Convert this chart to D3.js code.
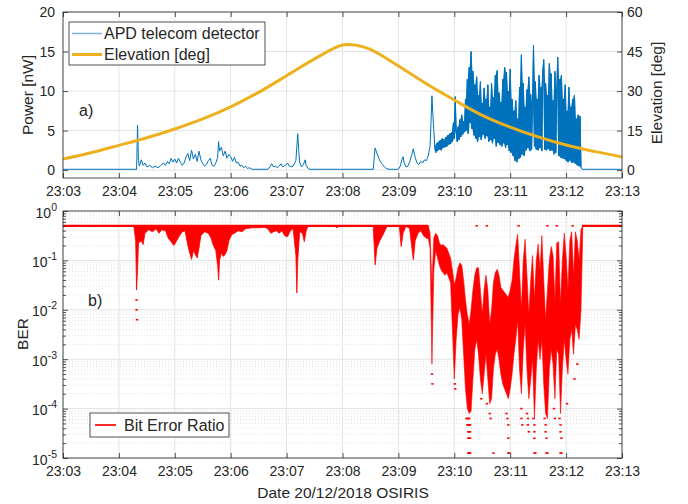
<!DOCTYPE html>
<html><head><meta charset="utf-8">
<script src="https://cdn.jsdelivr.net/npm/d3@7"></script>
<style>
body{margin:0;background:#fff}
text{font-family:"Liberation Sans",Arial,Helvetica,sans-serif;fill:#262626}
</style>
</head><body>
<svg id="c" width="688" height="504"></svg>
<script>
// ---------------- DATA (time in seconds after 23:03:00) ----------------
const timeLabels = ["23:03","23:04","23:05","23:06","23:07","23:08","23:09","23:10","23:11","23:12","23:13"];
const powerTicks = [0,5,10,15,20];
const elevTicks = [0,15,30,45,60];
const berTickExps = [0,-1,-2,-3,-4,-5];

// APD telecom detector power [nW], quiet part: [seconds, nW]
const apdQuiet = [[0,0.1],[79,0.1],[80,5.7],[81,1.2],[82,0.5],[84,1.3],[86,0.6],[88,0.9],[90,0.4],[93,0.6],[96,0.3],[99,0.5],[102,0.3],[105,0.6],[108,0.9],[110,0.6],[112,1.1],[114,0.8],[116,1.5],[118,1.0],[120,1.4],[122,0.9],[124,1.5],[126,1.0],[128,0.6],[130,0.9],[132,1.6],[134,2.1],[136,1.2],[138,2.5],[140,1.4],[142,2.0],[144,1.1],[146,2.4],[148,1.3],[150,0.8],[152,0.5],[154,0.7],[156,1.2],[158,1.5],[160,0.6],[162,0.5],[164,0.9],[166,1.6],[167,3.6],[168,2.4],[170,2.9],[172,1.8],[174,2.4],[176,1.5],[178,2.0],[180,1.7],[182,1.1],[184,1.6],[186,0.9],[188,1.0],[190,0.5],[192,0.6],[194,0.3],[196,0.5],[198,0.2],[200,0.3],[203,0.1],[220,0.1],[222,0.4],[224,0.8],[226,0.4],[228,0.5],[230,0.3],[232,0.5],[234,0.8],[236,0.4],[238,0.6],[240,0.7],[241,0.9],[243,0.5],[246,0.4],[248,0.7],[250,1.2],[251,3.0],[252,4.6],[253,2.5],[254,1.0],[256,0.4],[258,0.7],[260,1.3],[261,0.6],[263,0.2],[265,0.1],[333,0.1],[334,1.5],[335,2.8],[337,2.1],[339,1.5],[341,1.0],[343,0.7],[345,0.4],[347,0.2],[350,0.1],[360,0.1],[362,0.5],[364,1.4],[365,1.7],[366,1.0],[368,0.4],[370,0.5],[372,1.0],[374,1.8],[376,2.7],[378,1.6],[380,0.9],[382,0.7],[384,1.1],[386,0.9],[388,1.3],[390,1.2],[392,1.8],[394,3.0],[395,6.0],[396,9.4],[397,7.0]];
// APD power, active part: one sample per second starting at apdActiveStart
const apdActiveStart = 398;
const apdActive = [5.0,3.0,2.2,3.4,2.4,3.6,2.6,3.8,2.5,4.0,2.8,3.9,2.9,4.2,3.0,4.4,3.2,4.6,3.3,4.8,3.6,6.0,4.0,9.3,5.0,3.6,5.5,3.8,6.4,4.2,7.0,4.5,6.2,4.8,9.0,5.0,11.5,4.6,13.0,6.0,15.0,5.2,12.5,4.4,10.8,4.0,11.8,3.6,9.5,4.2,11.2,3.8,8.5,4.5,10.4,4.0,9.0,4.3,10.8,3.6,8.0,3.8,11.0,3.4,9.2,4.0,12.0,3.0,12.6,3.5,9.8,3.2,8.6,3.0,11.5,3.4,13.0,2.8,12.4,3.2,10.0,2.4,12.8,2.2,9.0,1.8,7.5,1.2,8.8,1.0,6.5,1.4,10.5,1.6,14.6,2.0,11.0,1.8,8.0,2.5,10.2,2.8,11.8,2.4,9.6,2.6,8.4,15.8,3.0,11.2,2.6,9.0,2.5,12.0,2.8,10.5,2.4,12.5,14.0,2.6,11.0,2.5,9.5,2.7,13.5,2.4,12.2,2.5,8.8,2.0,12.5,2.2,10.0,14.3,1.8,11.5,1.6,12.0,1.5,9.0,1.4,10.8,1.2,7.5,1.0,10.5,1.2,8.0,0.9,9.0,1.0,9.5,0.8,6.5,0.6,7.0,0.5,6.8,0.4,0.1];
const apdTail = [[558,0.1],[600,0.1]];

// Elevation [deg]
const elevTimes = [0,30,60,90,120,150,180,210,240,270,300,315,330,360,390,420,450,480,510,540,570,600];
const elevDeg   = [4.2,6.6,9.4,12.3,15.6,19.4,24.0,29.5,35.8,42.2,47.5,47.4,45.8,39.5,32.8,26.6,20.8,16.3,12.6,9.5,7.1,5.0];

// Bit Error Ratio
const berNoSignal = 0.5;
const berFlatSpans = [[0,392],[557,600]];
// quiet part: lower edge as log10(BER), upper edge is berNoSignal
const berQuietLowLog10 = [[76,-0.30],[78,-0.60],[79,-1.60],[80,-1.20],[81,-0.65],[84,-0.60],[86,-0.68],[88,-0.45],[92,-0.38],[96,-0.42],[100,-0.36],[103,-0.45],[106,-0.38],[110,-0.40],[113,-0.55],[116,-0.62],[119,-0.70],[122,-0.60],[125,-0.50],[128,-0.42],[131,-0.40],[134,-0.70],[136,-0.85],[138,-0.98],[140,-0.80],[142,-0.88],[144,-0.95],[146,-0.75],[148,-0.50],[152,-0.42],[156,-0.45],[159,-0.55],[161,-0.68],[164,-0.80],[166,-1.10],[167,-1.40],[168,-1.00],[170,-0.85],[172,-0.92],[174,-0.88],[176,-0.80],[178,-0.60],[181,-0.48],[184,-0.45],[188,-0.40],[192,-0.42],[196,-0.36],[202,-0.34],[210,-0.34],[216,-0.33],[220,-0.36],[223,-0.45],[226,-0.42],[229,-0.40],[232,-0.45],[235,-0.40],[238,-0.50],[241,-0.52],[244,-0.40],[247,-0.36],[250,-0.90],[251,-1.66],[252,-1.00],[254,-0.42],[257,-0.45],[259,-0.62],[261,-0.40],[263,-0.31],[292,-0.31],[294,-0.34],[296,-0.31],[333,-0.31],[335,-1.09],[337,-0.75],[340,-0.60],[343,-0.50],[346,-0.38],[348,-0.31],[361,-0.31],[363,-0.72],[365,-0.45],[368,-0.31],[372,-0.35],[376,-0.99],[378,-0.60],[381,-0.45],[384,-0.40],[387,-0.50],[390,-0.55],[392,-0.55]];
// active part: every 2 s from berActiveStart, upper and lower edges as log10(BER)
const berActiveStart = 392;
const berActiveHiLog10 = [-0.30,-0.45,-1.50,-0.55,-0.45,-0.50,-0.65,-0.70,-0.68,-0.72,-0.75,-0.85,-0.95,-1.20,-1.50,-1.35,-1.15,-1.05,-1.10,-1.40,-1.80,-2.10,-2.30,-2.00,-1.60,-1.30,-1.15,-1.15,-1.60,-2.10,-1.60,-1.30,-1.60,-2.30,-2.00,-1.45,-1.25,-1.18,-1.30,-1.55,-1.60,-1.65,-1.70,-1.75,-1.60,-1.40,-1.00,-0.70,-0.47,-1.20,-2.00,-1.00,-0.57,-1.30,-2.10,-1.40,-0.90,-1.80,-1.00,-0.67,-1.20,-0.50,-1.40,-2.20,-1.60,-1.00,-0.72,-0.90,-1.80,-0.65,-0.62,-1.90,-1.00,-0.45,-0.90,-1.60,-0.60,-0.42,-1.30,-0.42,-0.60,-1.00,-0.38,-0.30];
const berActiveLoLog10 = [-0.55,-0.75,-3.10,-1.20,-0.80,-0.95,-1.10,-1.20,-1.25,-1.30,-1.25,-1.35,-1.45,-2.40,-3.40,-2.60,-2.10,-1.95,-2.20,-2.90,-3.60,-4.00,-4.10,-4.05,-3.40,-2.80,-2.60,-2.90,-3.40,-3.70,-3.30,-2.90,-3.40,-3.90,-3.80,-3.20,-2.90,-2.80,-3.00,-3.30,-3.50,-3.60,-3.70,-3.80,-3.60,-3.30,-2.90,-2.60,-2.20,-3.20,-3.70,-2.80,-2.30,-3.20,-3.80,-3.40,-3.00,-4.20,-3.20,-2.60,-3.00,-2.60,-3.50,-4.10,-4.20,-3.20,-2.80,-3.10,-3.80,-2.80,-2.90,-4.10,-3.20,-2.60,-3.00,-3.30,-2.60,-2.40,-2.90,-2.30,-2.40,-2.60,-2.00,-0.30];
// isolated BER samples: [seconds, log10(BER)]
const berDots = [[79,-1.8],[79,-2.0],[79.5,-2.2],[396,-3.3],[396.5,-3.5],[420.5,-3.5],[421,-3.6],
[433,-4.2],[434,-4.2],[435,-4.2],[436,-4.2],[434,-4.33],[435,-4.33],[436,-4.33],[437,-4.33],[435,-4.47],[436,-4.47],[437,-4.47],[435,-4.6],[436,-4.6],[437,-4.6],[435,-4.9],[436,-4.9],[437,-4.9],
[449,-3.8],[455,-3.9],[458,-4.1],[459,-4.2],[462,-4.9],[476,-4.1],[477,-4.2],[478,-4.33],[478,-4.6],[478,-4.9],[479,-4.9],
[492,-4.0],[492,-4.2],[493,-4.33],[498,-4.1],[499,-4.2],[499,-4.33],[500,-4.47],[505,-4.2],[506,-4.33],[506,-4.47],[506,-4.6],[506,-4.9],[507,-4.9],
[517,-4.2],[518,-4.33],[518,-4.47],[519,-4.6],[519,-4.9],[520,-4.9],[527,-4.0],[528,-4.2],[533,-4.2],[534,-4.33],[534,-4.47],[535,-4.6],[534,-4.9],[535,-4.9],
[541,-3.9],[549,-3.4],[552,-3.1],[444,-0.3],[455,-0.3],[489,-0.3],[520,-0.3],[530,-0.3],[547,-0.3]];

// ---------------- DRAWING ----------------
const svg = d3.select("#c");
const L = 63, R = 622;
const tTop = 12, tBot = 178;
const bTop = 211, bBot = 458;
const x = d3.scaleLinear().domain([0,600]).range([L,R]);
const yP = d3.scaleLinear().domain([-1,20]).range([tBot,tTop]);
const yE = d3.scaleLinear().domain([-3,60]).range([tBot,tTop]);
const yB = d3.scaleLog().domain([1e-5,1]).range([bBot,bTop]);
const minuteSecs = timeLabels.map((d,i)=>i*60);
const gridCol = "#e3e3e3", axCol = "#262626";

const defs = svg.append("defs");
defs.append("clipPath").attr("id","clipT").append("rect").attr("x",L).attr("y",tTop).attr("width",R-L).attr("height",tBot-tTop);
defs.append("clipPath").attr("id","clipB").append("rect").attr("x",L).attr("y",bTop).attr("width",R-L).attr("height",bBot-bTop);

// ---- grids ----
const gT = svg.append("g");
gT.selectAll(".vg").data(minuteSecs).join("line").attr("x1",d=>x(d)).attr("x2",d=>x(d)).attr("y1",tTop).attr("y2",tBot).attr("stroke",gridCol);
gT.selectAll(".hg").data(powerTicks).join("line").attr("x1",L).attr("x2",R).attr("y1",d=>yP(d)).attr("y2",d=>yP(d)).attr("stroke",gridCol);

const gB = svg.append("g");
const minorVals = [];
for (let e=-5; e<0; e++) for (let m=2; m<10; m++) minorVals.push(m*Math.pow(10,e));
gB.selectAll(".mg").data(minorVals).join("line").attr("x1",L).attr("x2",R).attr("y1",d=>yB(d)).attr("y2",d=>yB(d)).attr("stroke","#d9d9d9").attr("stroke-dasharray","1,2").attr("stroke-width",0.8);
gB.selectAll(".vg").data(minuteSecs).join("line").attr("x1",d=>x(d)).attr("x2",d=>x(d)).attr("y1",bTop).attr("y2",bBot).attr("stroke",gridCol);
gB.selectAll(".hg").data(berTickExps).join("line").attr("x1",L).attr("x2",R).attr("y1",d=>yB(Math.pow(10,d))).attr("y2",d=>yB(Math.pow(10,d))).attr("stroke",gridCol);

// ---- top data ----
const blue = "#0072BD";
const activePts = apdActive.map((v,i)=>[apdActiveStart+i, v]);
const apdAll = apdQuiet.concat(activePts, apdTail);
const pT = svg.append("g").attr("clip-path","url(#clipT)");
// dense band between consecutive samples of the active (noisy) part
const bands = activePts.slice(0,-1).map((p,i)=>({t:p[0]+0.5, lo:Math.min(p[1],activePts[i+1][1]), hi:Math.max(p[1],activePts[i+1][1])}));
pT.append("path").datum(bands).attr("fill",blue).attr("stroke","none")
  .attr("d", d3.area().x(d=>x(d.t)).y0(d=>yP(d.lo)).y1(d=>yP(d.hi)));
pT.append("path").datum(apdAll).attr("fill","none").attr("stroke",blue).attr("stroke-width",1).attr("stroke-linejoin","round")
  .attr("d", d3.line().x(d=>x(d[0])).y(d=>yP(d[1])));
pT.append("path").datum(elevTimes.map((t,i)=>[t,elevDeg[i]])).attr("fill","none").attr("stroke","#EDB120").attr("stroke-width",3)
  .attr("d", d3.line().curve(d3.curveCatmullRom).x(d=>x(d[0])).y(d=>yE(d[1])));

// ---- bottom data ----
const red = "#FF0000";
const pB = svg.append("g").attr("clip-path","url(#clipB)");
pB.append("path").datum(berQuietLowLog10).attr("fill",red).attr("stroke",red).attr("stroke-width",0.8)
  .attr("d", d3.area().x(d=>x(d[0])).y0(yB(berNoSignal)).y1(d=>yB(Math.pow(10,d[1]))));
const act = berActiveHiLog10.map((h,i)=>({t:berActiveStart+2*i, hi:h, lo:berActiveLoLog10[i]}));
pB.append("path").datum(act).attr("fill",red).attr("stroke",red).attr("stroke-width",0.6)
  .attr("d", d3.area().x(d=>x(d.t)).y0(d=>yB(Math.pow(10,d.hi))).y1(d=>yB(Math.pow(10,d.lo))));
pB.selectAll(".flat").data(berFlatSpans).join("line").attr("x1",d=>x(d[0])).attr("x2",d=>x(d[1]))
  .attr("y1",yB(berNoSignal)).attr("y2",yB(berNoSignal)).attr("stroke",red).attr("stroke-width",2.4);
pB.selectAll(".dot").data(berDots).join("rect").attr("x",d=>x(d[0])-1.2).attr("y",d=>yB(Math.pow(10,d[1]))-0.8)
  .attr("width",2.4).attr("height",1.6).attr("fill",red);

// ---- axes ----
function styleAxis(g){ g.select(".domain").remove(); g.selectAll(".tick line").attr("stroke",axCol).attr("stroke-width",0.8); g.selectAll(".tick text").style("font-size","14px").attr("fill",axCol).style("font-family","'Liberation Sans',Arial,sans-serif"); }
// top panel
svg.append("g").attr("transform",`translate(0,${tBot})`).call(d3.axisBottom(x).tickValues(minuteSecs).tickFormat((d,i)=>timeLabels[i]).tickSize(-5).tickPadding(8)).call(styleAxis);
svg.append("g").attr("transform",`translate(0,${tTop})`).call(d3.axisTop(x).tickValues(minuteSecs).tickFormat("").tickSize(-5)).call(styleAxis);
svg.append("g").attr("transform",`translate(${L},0)`).call(d3.axisLeft(yP).tickValues(powerTicks).tickSize(-5).tickPadding(8)).call(styleAxis);
svg.append("g").attr("transform",`translate(${R},0)`).call(d3.axisRight(yE).tickValues(elevTicks).tickSize(-5).tickPadding(5)).call(styleAxis);
svg.append("rect").attr("x",L).attr("y",tTop).attr("width",R-L).attr("height",tBot-tTop).attr("fill","none").attr("stroke",axCol).attr("stroke-width",0.8);

// bottom panel
svg.append("g").attr("transform",`translate(0,${bBot})`).call(d3.axisBottom(x).tickValues(minuteSecs).tickFormat((d,i)=>timeLabels[i]).tickSize(-5).tickPadding(8)).call(styleAxis);
svg.append("g").attr("transform",`translate(0,${bTop})`).call(d3.axisTop(x).tickValues(minuteSecs).tickFormat("").tickSize(-5)).call(styleAxis);
const majVals = berTickExps.map(e=>Math.pow(10,e));
const leftLog = svg.append("g").attr("transform",`translate(${L},0)`).call(d3.axisLeft(yB).tickValues(majVals).tickSize(-5).tickPadding(6).tickFormat("")).call(styleAxis);
leftLog.selectAll(".tick text").each(function(d){
  const e = Math.round(Math.log10(d));
  const t = d3.select(this).attr("dy",null).attr("y",6).attr("x",-6);
  t.text(null);
  t.append("tspan").text("10");
  t.append("tspan").attr("dy",-7).style("font-size","10.5px").text(e===0?"0":"-"+(-e));
});
svg.append("g").attr("transform",`translate(${L},0)`).call(d3.axisLeft(yB).tickValues(minorVals).tickSize(-3).tickFormat("")).call(styleAxis);
svg.append("g").attr("transform",`translate(${R},0)`).call(d3.axisRight(yB).tickValues(majVals).tickSize(-5).tickFormat("")).call(styleAxis);
svg.append("g").attr("transform",`translate(${R},0)`).call(d3.axisRight(yB).tickValues(minorVals).tickSize(-3).tickFormat("")).call(styleAxis);
svg.append("rect").attr("x",L).attr("y",bTop).attr("width",R-L).attr("height",bBot-bTop).attr("fill","none").attr("stroke",axCol).attr("stroke-width",0.8);

// ---- labels ----
svg.append("text").attr("transform","translate(27,95) rotate(-90)").attr("text-anchor","middle").attr("dominant-baseline","central").style("font-size","15.5px").text("Power [nW]");
svg.append("text").attr("transform","translate(656,93) rotate(-90)").attr("text-anchor","middle").attr("dominant-baseline","central").style("font-size","15.5px").text("Elevation [deg]");
svg.append("text").attr("transform","translate(22,334) rotate(-90)").attr("text-anchor","middle").attr("dominant-baseline","central").style("font-size","15.5px").text("BER");
svg.append("text").attr("x",343).attr("y",492).attr("text-anchor","middle").attr("dominant-baseline","central").style("font-size","15.5px").text("Date 20/12/2018 OSIRIS");
svg.append("text").attr("x",79).attr("y",110).attr("dominant-baseline","central").style("font-size","16px").text("a)");
svg.append("text").attr("x",88).attr("y",300).attr("dominant-baseline","central").style("font-size","16px").text("b)");

// ---- legends ----
const lg1 = svg.append("g");
lg1.append("rect").attr("x",69).attr("y",22).attr("width",196).attr("height",43).attr("fill","#fff").attr("stroke",axCol).attr("stroke-width",0.8);
lg1.append("line").attr("x1",72).attr("x2",102).attr("y1",33.5).attr("y2",33.5).attr("stroke","#7fb3e0").attr("stroke-width",1.5);
lg1.append("text").attr("x",104).attr("y",33.5).attr("dominant-baseline","central").style("font-size","16px").text("APD telecom detector");
lg1.append("line").attr("x1",72).attr("x2",102).attr("y1",54.5).attr("y2",54.5).attr("stroke","#EDB120").attr("stroke-width",3);
lg1.append("text").attr("x",104).attr("y",54.5).attr("dominant-baseline","central").style("font-size","16px").text("Elevation [deg]");

const lg2 = svg.append("g");
lg2.append("rect").attr("x",90).attr("y",413).attr("width",139).attr("height",24).attr("fill","#fff").attr("stroke",axCol).attr("stroke-width",0.8);
lg2.append("line").attr("x1",95).attr("x2",116).attr("y1",425).attr("y2",425).attr("stroke","#ff2a2a").attr("stroke-width",2);
lg2.append("text").attr("x",124).attr("y",425).attr("dominant-baseline","central").style("font-size","16px").text("Bit Error Ratio");
</script>
</body></html>
